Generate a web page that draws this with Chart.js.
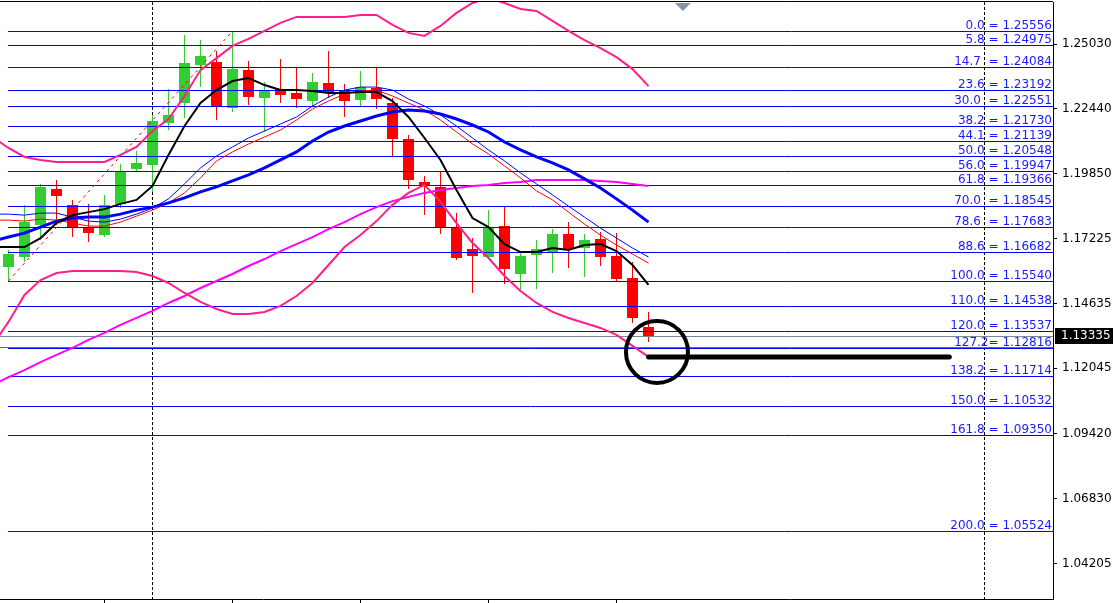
<!DOCTYPE html>
<html>
<head>
<meta charset="utf-8">
<title>EURUSD D1 - Fibo</title>
<script src="https://cdn.jsdelivr.net/npm/chart.js@4.4.0/dist/chart.umd.min.js"></script>
<style>
  html, body { margin: 0; padding: 0; background: #fff; }
  #wrap { width: 1113px; height: 603px; }
</style>
</head>
<body>
<div id="wrap"><canvas id="priceChart" width="1113" height="603"></canvas></div>
<script>
// ── Candles (bar 0 = leftmost visible bar) ───────────────────
const open  = [1.16101, 1.16502, 1.17784, 1.19226, 1.18585, 1.17663, 1.17383, 1.18625, 1.20027, 1.20187,
               1.21870, 1.22671, 1.24194, 1.24314, 1.22471, 1.23994, 1.22872, 1.23232, 1.23072, 1.22752,
               1.23473, 1.23152, 1.22792, 1.23272, 1.22671, 1.21229, 1.19506, 1.19306, 1.17663, 1.16822,
               1.16502, 1.17744, 1.15820, 1.16582, 1.16702, 1.17423, 1.16862, 1.17223, 1.16542, 1.15660, 1.13697];
const high  = [1.16782, 1.18585, 1.19426, 1.19587, 1.18785, 1.18625, 1.18986, 1.20228, 1.20748, 1.22191,
               1.23232, 1.25396, 1.25195, 1.24755, 1.25556, 1.24354, 1.23513, 1.24434, 1.24114, 1.23873,
               1.24755, 1.23433, 1.23953, 1.24114, 1.22872, 1.21389, 1.19747, 1.19907, 1.18264, 1.17263,
               1.18385, 1.18505, 1.16702, 1.17183, 1.17623, 1.17904, 1.17423, 1.17503, 1.17463, 1.16301, 1.14298];
const low   = [1.15540, 1.16301, 1.17183, 1.17784, 1.17303, 1.17103, 1.17303, 1.18465, 1.19947, 1.19106,
               1.21590, 1.22070, 1.23312, 1.21990, 1.22311, 1.22591, 1.21510, 1.22671, 1.22471, 1.22511,
               1.22872, 1.22111, 1.22551, 1.22431, 1.20548, 1.19226, 1.18184, 1.17423, 1.16381, 1.15059,
               1.16502, 1.15420, 1.15139, 1.15220, 1.15861, 1.16061, 1.15700, 1.16141, 1.15540, 1.13857, 1.13096];
const close = [1.16622, 1.17904, 1.19306, 1.18945, 1.17663, 1.17463, 1.18585, 1.19907, 1.20268, 1.21950,
               1.22191, 1.24274, 1.24554, 1.22511, 1.24034, 1.22912, 1.23192, 1.22992, 1.22832, 1.23513,
               1.23112, 1.22752, 1.23312, 1.22832, 1.21229, 1.19587, 1.19346, 1.17663, 1.16462, 1.16542,
               1.17663, 1.16021, 1.16542, 1.16822, 1.17423, 1.16822, 1.17183, 1.16502, 1.15620, 1.14058, 1.13335];

// ── Indicators (bar -1 .. 40, bar -1 is just off the left edge) ──
const maFast   = [1.1690, 1.1690, 1.1690, 1.1726, 1.1786, 1.1818, 1.1830, 1.1842, 1.1863, 1.1879, 1.1935,
                  1.2059, 1.2175, 1.2267, 1.2319, 1.2355, 1.2367, 1.2339, 1.2319, 1.2319, 1.2315, 1.2307,
                  1.2307, 1.2311, 1.2311, 1.2275, 1.2211, 1.2127, 1.2039, 1.1919, 1.1806, 1.1770, 1.1702,
                  1.1670, 1.1670, 1.1686, 1.1678, 1.1698, 1.1702, 1.1674, 1.1618, 1.1538];
const maSlow   = [1.1714, 1.1730, 1.1746, 1.1770, 1.1794, 1.1806, 1.1810, 1.1810, 1.1822, 1.1838, 1.1850,
                  1.1867, 1.1887, 1.1911, 1.1931, 1.1955, 1.1979, 1.2007, 1.2039, 1.2071, 1.2115, 1.2151,
                  1.2175, 1.2195, 1.2215, 1.2231, 1.2239, 1.2235, 1.2223, 1.2203, 1.2179, 1.2151, 1.2111,
                  1.2079, 1.2051, 1.2027, 1.1999, 1.1963, 1.1927, 1.1883, 1.1838, 1.1790];
const maHigh   = [1.1822, 1.1822, 1.1818, 1.1826, 1.1826, 1.1810, 1.1794, 1.1790, 1.1802, 1.1822, 1.1846,
                  1.1883, 1.1943, 1.2007, 1.2055, 1.2091, 1.2127, 1.2155, 1.2183, 1.2211, 1.2255, 1.2291,
                  1.2319, 1.2331, 1.2331, 1.2319, 1.2283, 1.2255, 1.2219, 1.2175, 1.2127, 1.2079, 1.2035,
                  1.1987, 1.1943, 1.1899, 1.1854, 1.1810, 1.1766, 1.1726, 1.1686, 1.1650];
const maLow    = [1.1798, 1.1798, 1.1794, 1.1802, 1.1798, 1.1786, 1.1774, 1.1774, 1.1790, 1.1814, 1.1838,
                  1.1867, 1.1907, 1.1967, 1.2035, 1.2071, 1.2103, 1.2131, 1.2159, 1.2199, 1.2243, 1.2275,
                  1.2303, 1.2315, 1.2319, 1.2295, 1.2267, 1.2239, 1.2199, 1.2151, 1.2103, 1.2063, 1.2015,
                  1.1967, 1.1915, 1.1879, 1.1830, 1.1782, 1.1738, 1.1698, 1.1662, 1.1626];
const maLong   = [1.1137, 1.1169, 1.1197, 1.1229, 1.1258, 1.1286, 1.1318, 1.1346, 1.1378, 1.1406, 1.1434,
                  1.1466, 1.1494, 1.1526, 1.1554, 1.1582, 1.1614, 1.1642, 1.1674, 1.1702, 1.1730, 1.1762,
                  1.1790, 1.1822, 1.1850, 1.1874, 1.1891, 1.1907, 1.1919, 1.1927, 1.1935, 1.1939, 1.1947,
                  1.1951, 1.1959, 1.1959, 1.1959, 1.1959, 1.1955, 1.1951, 1.1943, 1.1935];
const bandUp   = [1.2131, 1.2087, 1.2051, 1.2039, 1.2031, 1.2031, 1.2031, 1.2031, 1.2059, 1.2091, 1.2155,
                  1.2203, 1.2295, 1.2399, 1.2447, 1.2496, 1.2524, 1.2556, 1.2588, 1.2612, 1.2612, 1.2612,
                  1.2612, 1.2620, 1.2620, 1.2580, 1.2548, 1.2536, 1.2576, 1.2628, 1.2668, 1.2688, 1.2668,
                  1.2644, 1.2636, 1.2596, 1.2556, 1.2519, 1.2487, 1.2451, 1.2403, 1.2335];
const bandDown = [1.1298, 1.1390, 1.1498, 1.1558, 1.1586, 1.1594, 1.1594, 1.1594, 1.1594, 1.1590, 1.1574,
                  1.1546, 1.1506, 1.1470, 1.1442, 1.1422, 1.1422, 1.1430, 1.1454, 1.1494, 1.1546, 1.1618,
                  1.1690, 1.1738, 1.1794, 1.1859, 1.1907, 1.1939, 1.1871, 1.1786, 1.1706, 1.1646, 1.1574,
                  1.1514, 1.1466, 1.1430, 1.1406, 1.1386, 1.1366, 1.1338, 1.1294, 1.1250];

// ── Fibonacci retracement (drawn from bar 0 low to bar 14 high) ──
const fibAnchor = [{ x: 0, y: 1.15540 }, { x: 14, y: 1.25556 }];
const fibLevels = [1.25556, 1.24975, 1.24084, 1.23192, 1.22551, 1.21730, 1.21139, 1.20548, 1.19947, 1.19366,
                   1.18545, 1.17683, 1.16682, 1.15540, 1.14538, 1.13537, 1.12816, 1.11714, 1.10532, 1.09350, 1.05524];
const fibText   = ['0.0 = 1.25556', '5.8 = 1.24975', '14.7  = 1.24084', '23.6 = 1.23192', '30.0  = 1.22551',
                   '38.2 = 1.21730', '44.1 = 1.21139', '50.0 = 1.20548', '56.0 = 1.19947', '61.8 = 1.19366',
                   '70.0  = 1.18545', '78.6  = 1.17683', '88.6 = 1.16682', '100.0 = 1.15540', '110.0 = 1.14538',
                   '120.0 = 1.13537', '127.2= 1.12816', '138.2 = 1.11714', '150.0 = 1.10532', '161.8 = 1.09350',
                   '200.0 = 1.05524'];

// ── Other chart objects ──────────────────────────────────────
const bidPrice   = 1.13335;
const hLinePrice = 1.12896;
const markLine   = [{ x: 40, y: 1.12495 }, { x: 58.8, y: 1.12495 }];
const markCircle = [{ x: 40.53, y: 1.12695 }];
const separators = [9, 61];
const shiftBar   = 42.15;

// ── Axes ─────────────────────────────────────────────────────
const yTicks = [1.25030, 1.22440, 1.19850, 1.17225, 1.14635, 1.12045, 1.09420, 1.06830, 1.04205];
const xTicks = [6, 14, 22, 30, 38];
const X_MIN = -0.53125, X_MAX = 65.28125;
const Y_MIN = 1.02800,  Y_MAX = 1.26718;

const bars = Array.from({ length: open.length }, (_, i) => i);
const lineBars = Array.from({ length: maFast.length }, (_, i) => i - 1);

const GREEN = '#32cd32', RED = '#ff0000';
const candleColor = bars.map(i => close[i] >= open[i] ? GREEN : RED);

const line = (vals, color, width, order) => ({
    type: 'line',
    data: lineBars.map((x, i) => ({ x, y: vals[i] })),
    borderColor: color,
    borderWidth: width,
    pointRadius: 0,
    tension: 0,
    fill: false,
    order,
});

const noPad = s => { s.paddingTop = 0; s.paddingBottom = 0; s.paddingLeft = 0; s.paddingRight = 0; };

// ── Overlay: fibo levels, separators, bid box ────────────────
const overlay = {
    id: 'overlay',
    beforeDatasetsDraw(chart) {
        const { ctx, chartArea: a, scales: { x } } = chart;
        ctx.save();
        ctx.strokeStyle = '#000';
        ctx.lineWidth = 1;
        ctx.setLineDash([3, 2]);
        separators.forEach(b => {
            const px = Math.floor(x.getPixelForValue(b)) + 0.5;
            ctx.beginPath();
            ctx.moveTo(px, a.top);
            ctx.lineTo(px, a.bottom);
            ctx.stroke();
        });
        ctx.restore();
    },
    afterDatasetDraw(chart, args) {
        if (chart.data.datasets[args.index].label !== 'bodies') return;
        const { ctx, chartArea: a, scales: { x, y } } = chart;
        ctx.save();
        ctx.lineWidth = 1;
        const x0 = Math.floor(x.getPixelForValue(fibAnchor[0].x));
        fibLevels.forEach(p => {
            const py = Math.floor(y.getPixelForValue(p)) + 0.5;
            ctx.strokeStyle = '#0000ff';
            ctx.beginPath();
            ctx.moveTo(x0, py);
            ctx.lineTo(a.right, py);
            ctx.stroke();
        });
        // bid line + horizontal line object
        let py = Math.floor(y.getPixelForValue(bidPrice)) + 0.5;
        ctx.strokeStyle = '#778899';
        ctx.beginPath(); ctx.moveTo(a.left, py); ctx.lineTo(a.right, py); ctx.stroke();
        py = Math.floor(y.getPixelForValue(hLinePrice)) + 0.5;
        ctx.strokeStyle = '#e0307a';
        ctx.beginPath(); ctx.moveTo(a.left, py); ctx.lineTo(a.right, py); ctx.stroke();
        ctx.restore();
    },
    afterDraw(chart) {
        const { ctx, chartArea: a, scales: { x, y } } = chart;
        ctx.save();
        // fibo labels
        ctx.font = '12px "DejaVu Sans"';
        ctx.fillStyle = '#1a1aff';
        ctx.textAlign = 'right';
        ctx.textBaseline = 'alphabetic';
        fibLevels.forEach((p, i) => {
            const py = Math.floor(y.getPixelForValue(p));
            ctx.fillText(fibText[i], a.right - 1, py - 2);
        });
        // top frame
        ctx.strokeStyle = '#000';
        ctx.lineWidth = 1;
        ctx.beginPath();
        ctx.moveTo(a.left, a.top - 0.5);
        ctx.lineTo(a.right, a.top - 0.5);
        ctx.stroke();
        // chart shift marker
        const sx = x.getPixelForValue(shiftBar);
        ctx.fillStyle = '#8595a6';
        ctx.beginPath();
        ctx.moveTo(sx - 8, a.top + 1);
        ctx.lineTo(sx + 8, a.top + 1);
        ctx.lineTo(sx, a.top + 9);
        ctx.closePath();
        ctx.fill();
        // bid price box
        const by = y.getPixelForValue(bidPrice);
        ctx.fillStyle = '#000';
        ctx.fillRect(a.right + 2, Math.round(by) - 8, chart.width - a.right - 2, 16);
        ctx.fillStyle = '#fff';
        ctx.textAlign = 'left';
        ctx.textBaseline = 'middle';
        ctx.fillText(bidPrice.toFixed(5), a.right + 8, Math.round(by));
        ctx.restore();
    },
};

// ── Chart ────────────────────────────────────────────────────
new Chart(document.getElementById('priceChart'), {
    type: 'bar',
    data: {
        datasets: [
            {
                type: 'scatter',
                data: markCircle,
                pointRadius: 31,
                pointBorderWidth: 4,
                pointBorderColor: '#000',
                pointBackgroundColor: 'rgba(0,0,0,0)',
                order: 0,
            },
            {
                type: 'line',
                data: markLine,
                borderColor: '#000',
                borderWidth: 5,
                borderCapStyle: 'round',
                pointRadius: 0,
                order: 0,
            },
            line(maFast,   '#000000', 2, 1),
            line(maSlow,   '#0000ff', 3, 2),
            line(maHigh,   '#0000ff', 1, 3),
            line(maLow,    '#ff0000', 1, 3),
            line(bandUp,   '#ff1e8c', 2, 4),
            line(bandDown, '#ff1e8c', 2, 4),
            line(maLong,   '#ff00ff', 2, 5),
            {
                type: 'line',
                data: fibAnchor,
                borderColor: '#ff0000',
                borderWidth: 1,
                borderDash: [3, 4],
                pointRadius: 0,
                order: 6,
            },
            {
                label: 'bodies',
                data: bars.map(i => ({ x: i, y: [Math.min(open[i], close[i]), Math.max(open[i], close[i])] })),
                backgroundColor: candleColor,
                barThickness: 11,
                minBarLength: 1,
                grouped: false,
                inflateAmount: 0,
                borderWidth: 0,
                order: 10,
            },
            {
                label: 'wicks',
                data: bars.map(i => ({ x: i, y: [low[i], high[i]] })),
                backgroundColor: candleColor,
                barThickness: 1,
                grouped: false,
                inflateAmount: 0,
                borderWidth: 0,
                order: 11,
            },
        ],
    },
    options: {
        responsive: false,
        animation: false,
        devicePixelRatio: 1,
        layout: { autoPadding: false, padding: { top: 2, left: 0, right: 0, bottom: 0 } },
        plugins: { legend: { display: false }, tooltip: { enabled: false } },
        scales: {
            x: {
                type: 'linear',
                min: X_MIN,
                max: X_MAX,
                offset: false,
                grid: { offset: false, drawOnChartArea: false, drawTicks: true, tickLength: 4, color: '#000' },
                border: { display: true, color: '#000' },
                ticks: { display: false },
                afterBuildTicks: s => { s.ticks = xTicks.map(v => ({ value: v })); },
                afterFit: s => { s.height = 4; noPad(s); },
            },
            y: {
                position: 'right',
                min: Y_MIN,
                max: Y_MAX,
                grid: { drawOnChartArea: false, drawTicks: true, tickLength: 4, color: '#000' },
                border: { display: true, color: '#000' },
                ticks: {
                    color: '#000',
                    padding: 5,
                    font: { family: 'DejaVu Sans', size: 12 },
                    callback: v => Number(v).toFixed(5),
                },
                afterBuildTicks: s => { s.ticks = yTicks.map(v => ({ value: v })); },
                afterFit: s => { s.width = 60; noPad(s); },
            },
        },
    },
    plugins: [overlay],
});
</script>
</body>
</html>
